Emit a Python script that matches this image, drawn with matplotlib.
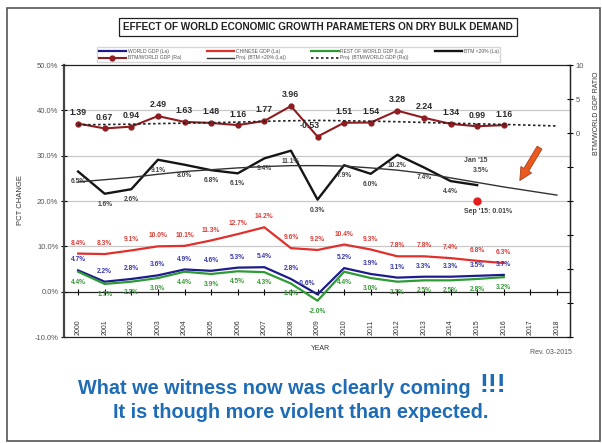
import numpy as np
import matplotlib.pyplot as plt
from matplotlib.patches import Rectangle

plt.rcParams['font.family'] = ['Liberation Sans', 'DejaVu Sans']

# data
years = list(range(2000, 2017))
all_years = list(range(2000, 2019))

world_gdp = [4.7, 2.2, 2.8, 3.6, 4.9, 4.6, 5.3, 5.4, 2.8, -0.6, 5.2, 3.9, 3.1, 3.3, 3.3, 3.5, 3.7]
chinese_gdp = [8.4, 8.3, 9.1, 10.0, 10.1, 11.3, 12.7, 14.2, 9.6, 9.2, 10.4, 9.3, 7.8, 7.8, 7.4, 6.8, 6.3]
rest_gdp = [4.4, 1.7, 2.2, 3.0, 4.4, 3.9, 4.5, 4.3, 1.8, -2.0, 4.4, 3.0, 2.2, 2.5, 2.5, 2.8, 3.2]

btm_years = list(range(2000, 2016))
btm = [6.5, 1.6, 2.6, 9.1, 8.0, 6.8, 6.1, 9.4, 11.1, 0.3, 7.9, 6.0, 10.2, 7.4, 4.4, 3.5]
btm_label_years = btm_years[:-1]
BTM_OFFSET = 20  # BTM plotted with +20% shift on the left axis

proj_btm = [24.2, 24.7, 25.2, 25.9, 26.5, 26.9, 27.3, 27.6, 27.8, 27.8, 27.7, 27.3,
            26.8, 26.1, 25.1, 24.1, 23.1, 22.2, 21.3]

ratio = [1.39, 0.67, 0.94, 2.49, 1.63, 1.48, 1.16, 1.77, 3.96, -0.53, 1.51, 1.54,
         3.28, 2.24, 1.34, 0.99, 1.16]
proj_ratio = [1.2, 1.25, 1.3, 1.38, 1.45, 1.52, 1.6, 1.72, 1.8, 1.85, 1.8, 1.74,
              1.66, 1.55, 1.44, 1.35, 1.26, 1.15, 1.03]

sep15_year = 2015
sep15_btm = 0.01

W, H = 602, 443
fig = plt.figure(figsize=(W / 100, H / 100), dpi=100)

def fx(px):
    return px / W

def fy(py):
    return 1 - py / H

ax = fig.add_axes([fx(64), fy(337), fx(570) - fx(64), fy(65) - fy(337)])
ax.set_xlim(1999.47, 2018.49)
ax.set_ylim(-10, 50)
ax.set_yticks(np.arange(-10, 51, 10))
ax.set_yticklabels(['%.1f%%' % v for v in np.arange(-10, 51, 10)], fontsize=5.5, color='#555555')
ax.tick_params(axis='y', direction='inout', length=4, width=0.8, pad=2)
for v in [10, 20, 30, 40]:
    ax.axhline(v, color='#c8c8c8', lw=0.9, zorder=0)
for s in ['top', 'right', 'bottom']:
    ax.spines[s].set_linewidth(0.9)
    ax.spines[s].set_color('#222222')
ax.spines['left'].set_linewidth(1.6)
ax.spines['left'].set_color('#444444')

# year labels inside plot area at the bottom
ax.set_xticks(all_years)
ax.set_xticklabels([str(y) for y in all_years], rotation=90, fontsize=5, color='#333333')
ax.tick_params(axis='x', length=0, pad=-1.5)
for lab in ax.get_xticklabels():
    lab.set_va('bottom')

# zero line with year ticks
zero_ax = ax.secondary_xaxis(10 / 60)
zero_ax.set_xticks(all_years)
zero_ax.tick_params(axis='x', direction='inout', length=4, width=0.8, labelbottom=False)
zero_ax.spines['bottom'].set_linewidth(0.9)
zero_ax.spines['bottom'].set_color('#222222')

btm_shift = [b + BTM_OFFSET for b in btm]

l_world, = ax.plot(years, world_gdp, color='#1c1c8c', lw=1.6, label='WORLD GDP (La)')
l_china, = ax.plot(years, chinese_gdp, color='#e0302c', lw=1.6, label='CHINESE GDP (La)')
l_rest, = ax.plot(years, rest_gdp, color='#2e9a36', lw=1.6, label='REST OF WORLD GDP (La)')
l_btm, = ax.plot(btm_years, btm_shift, color='#151515', lw=1.7, label='BTM <20% (La)')
l_pbtm, = ax.plot(all_years, proj_btm, color='#333333', lw=1.0, label='Proj. (BTM <20% (La))')
ax.plot([sep15_year], [sep15_btm + BTM_OFFSET], 'o', color='#e81c1c', ms=5)

lab_kw = dict(textcoords='offset points', ha='center', va='center', fontsize=4.8, fontweight='bold')
for x, v in zip(years, chinese_gdp):
    ax.annotate('%.1f%%' % v, (x, v), xytext=(0, 7.5), color='#d8403a', **lab_kw)
for x, v in zip(years, world_gdp):
    dx = -8 if v < 0 else 0
    ax.annotate('%.1f%%' % v, (x, v), xytext=(dx, 7.5), color='#3a3aa8', **lab_kw)
for x, v in zip(years, rest_gdp):
    ax.annotate('%.1f%%' % v, (x, v), xytext=(0, -7.5), color='#3a9a3a', **lab_kw)
for x, v, s in zip(btm_label_years, btm, btm_shift):
    ax.annotate('%.1f%%' % v, (x, s), xytext=(0, -7.5), color='#444444', **lab_kw)

ax.text(2014.95, 28.9, "Jan '15", fontsize=5, fontweight='bold', color='#444444', ha='center', va='center')
ax.text(2015.15, 26.7, '%.1f%%' % btm[-1], fontsize=5, fontweight='bold', color='#444444', ha='center', va='center')
ax.annotate("Sep '15: %.2f%%" % sep15_btm, (sep15_year, sep15_btm + BTM_OFFSET), xytext=(8, -7.5),
            textcoords='offset points', ha='center', va='center', fontsize=5, fontweight='bold', color='#444444')

ax.annotate('', xy=(2016.55, 24.0), xytext=(2017.4, 32.3),
            arrowprops=dict(arrowstyle='simple,head_width=0.9,head_length=0.9,tail_width=0.4',
                            fc='#ea5a1e', ec='#a8401a', lw=0.6))

ax2 = ax.twinx()
ax2.set_ylim(-30, 10)
ax2.set_yticks(np.arange(-30, 11, 5))
ax2.set_yticklabels(['' if v < 0 else '%d' % v for v in np.arange(-30, 11, 5)], fontsize=5.5, color='#555555')
ax2.tick_params(axis='y', direction='inout', length=4, width=0.8, pad=2)
for s in ax2.spines.values():
    s.set_visible(False)
ax2.spines['right'].set_visible(True)
ax2.spines['right'].set_linewidth(0.9)
ax2.spines['right'].set_color('#222222')

l_ratio, = ax2.plot(years, ratio, color='#8e1c20', lw=1.5, marker='o', ms=3.5, label='BTM/WORLD GDP (Ra)')
l_pratio, = ax2.plot(all_years, proj_ratio, color='#222222', lw=1.2, ls=(0, (1.5, 1.5)),
                     label='Proj. (BTM/WORLD GDP (Ra))')
for x, v in zip(years, ratio):
    dx = -6 if v < 0 else 0
    ax2.annotate('%.2f' % v, (x, v), xytext=(dx, 8), textcoords='offset points', ha='center', va='center',
                 fontsize=6.3, fontweight='bold', color='#2a2a2a')

handles = [l_world, l_ratio, l_china, l_pbtm, l_rest, l_pratio, l_btm]
fig.legend(handles=handles, ncol=4, loc='lower left', mode='expand',
           bbox_to_anchor=(fx(97), fy(62), fx(500) - fx(97), fy(40) - fy(62)),
           fontsize=3.6, frameon=True, fancybox=False, edgecolor='#cccccc', handlelength=5.5,
           handletextpad=0.3, borderpad=0.3, labelspacing=0.35, borderaxespad=0,
           labelcolor='#555555')

fig.text(fx(318), fy(26.5), 'EFFECT OF WORLD ECONOMIC GROWTH PARAMETERS ON DRY BULK DEMAND',
         ha='center', va='center', fontsize=7.2, fontweight='bold', color='#222222',
         bbox=dict(boxstyle='square,pad=0.4', fc='white', ec='#222222', lw=0.9))

fig.text(fx(20), fy(200), 'PCT CHANGE', rotation=90, ha='center', va='center', fontsize=5.5, color='#333333')
fig.text(fx(596), fy(113), 'BTM/WORLD GDP RATIO', rotation=90, ha='center', va='center', fontsize=5, color='#333333')
fig.text(fx(320), fy(349), 'YEAR', ha='center', va='center', fontsize=5, color='#333333')
fig.text(fx(572), fy(352), 'Rev. 03-2015', ha='right', va='center', fontsize=5, color='#555555')

blue = '#1f6cb6'
fig.text(fx(471), fy(388), 'What we witness now was clearly coming', ha='right', va='center',
         fontsize=14.3, fontweight='bold', color=blue)
fig.text(fx(479), fy(385), '!!!', ha='left', va='center', fontsize=19, fontweight='bold', color=blue)
fig.text(fx(301), fy(412), 'It is though more violent than expected.', ha='center', va='center',
         fontsize=14.3, fontweight='bold', color=blue)

fig.patches.append(Rectangle((fx(7), fy(441)), fx(600) - fx(7), fy(8) - fy(441), transform=fig.transFigure,
                             fill=False, ec='#555555', lw=1.2))

fig.savefig('out.png', dpi=100)
